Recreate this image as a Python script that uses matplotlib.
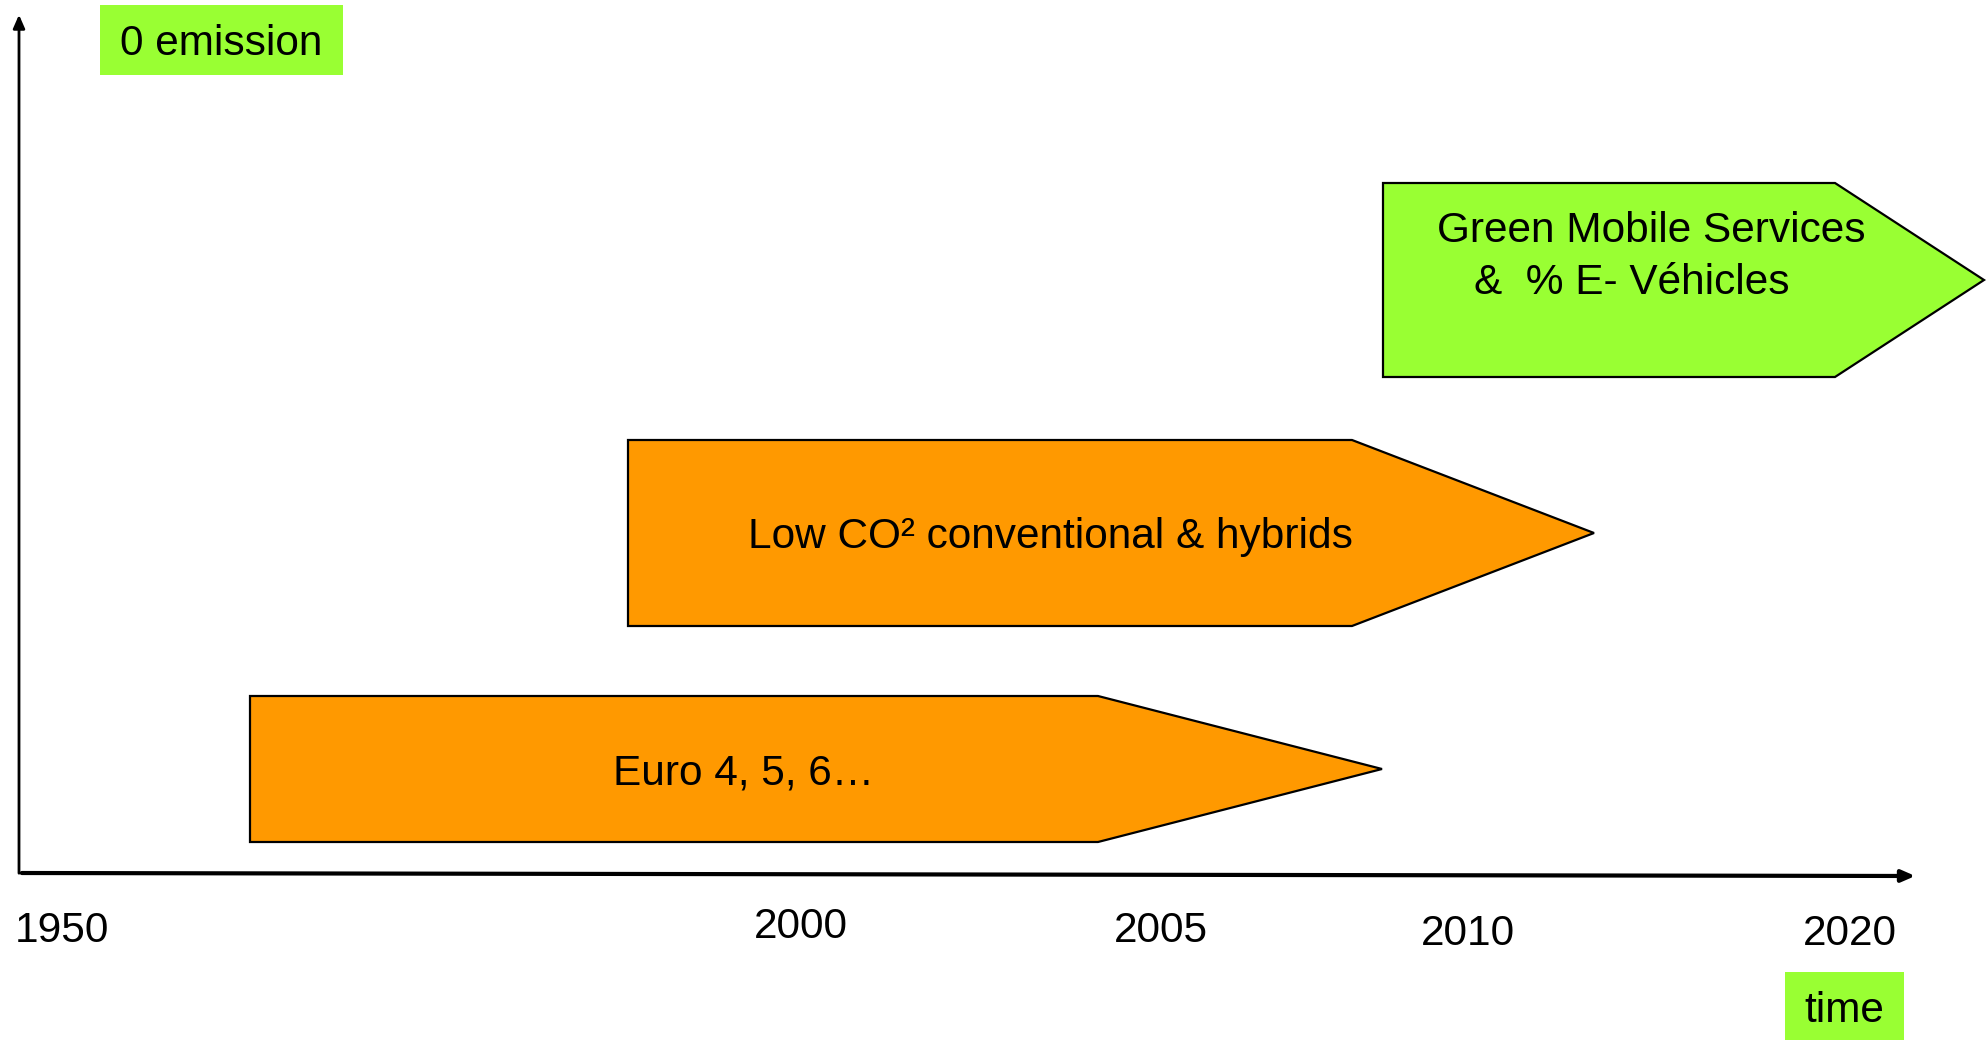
import matplotlib
matplotlib.use("Agg")
import matplotlib.pyplot as plt
from matplotlib.patches import Polygon, Rectangle

plt.rcParams['font.family'] = ['Liberation Sans', 'DejaVu Sans']

# Timeline phases: label, left, shoulder, tip, top, bottom (canvas units)
phase_labels = ["Euro 4, 5, 6\u2026", "Low CO\u00b2 conventional & hybrids",
                "Green Mobile Services\n&  % E- V\u00e9hicles"]
phase_left = [250, 628, 1383]
phase_shoulder = [1098, 1352, 1835]
phase_tip = [1382, 1594, 1984]
phase_top = [696, 440, 183]
phase_bottom = [842, 626, 377]
phase_colors = ["#FF9900", "#FF9900", "#99FF33"]

# Year labels along the time axis
years = ["1950", "2000", "2005", "2010", "2020"]
year_x = [62, 801, 1161, 1468, 1850]
year_y = [931, 927, 931, 934, 934]

FS = 30.5
W, H = 1988, 1040
fig = plt.figure(figsize=(W / 100, H / 100), dpi=100)
ax = fig.add_axes([0, 0, 1, 1])
ax.set_xlim(0, W)
ax.set_ylim(H, 0)
ax.axis("off")

# Axes arrows
ax.annotate("", xy=(19, 12), xytext=(19, 876),
            arrowprops=dict(arrowstyle="-|>,head_length=0.8,head_width=0.35",
                            color="black", lw=2))
ax.annotate("", xy=(1918, 876), xytext=(19, 873),
            arrowprops=dict(arrowstyle="-|>,head_length=0.8,head_width=0.35",
                            color="black", lw=3))

# Phase arrows
for i, lab in enumerate(phase_labels):
    l, s, t = phase_left[i], phase_shoulder[i], phase_tip[i]
    top, bot = phase_top[i], phase_bottom[i]
    mid = (top + bot) / 2
    poly = Polygon([(l, top), (s, top), (t, mid), (s, bot), (l, bot)],
                   closed=True, facecolor=phase_colors[i], edgecolor="black", lw=1.6)
    ax.add_patch(poly)

ax.text(744, 773, phase_labels[0], fontsize=FS, ha="center", va="center")
ax.text(1050, 537, phase_labels[1], fontsize=FS, ha="center", va="center")
line1, line2 = phase_labels[2].split("\n")
ax.text(1651, 231, line1, fontsize=FS, ha="center", va="center")
ax.text(1474, 283, line2, fontsize=FS, ha="left", va="center")

# Green tag boxes
ax.add_patch(Rectangle((100, 5), 243, 70, facecolor="#99FF33", edgecolor="none"))
ax.text(221, 44, "0 emission", fontsize=FS, ha="center", va="center")
ax.add_patch(Rectangle((1785, 972), 119, 68, facecolor="#99FF33", edgecolor="none"))
ax.text(1844, 1011, "time", fontsize=FS, ha="center", va="center")

for lab, x, y in zip(years, year_x, year_y):
    ax.text(x, y, lab, fontsize=FS, ha="center", va="center")

fig.savefig("out.png", dpi=100)
